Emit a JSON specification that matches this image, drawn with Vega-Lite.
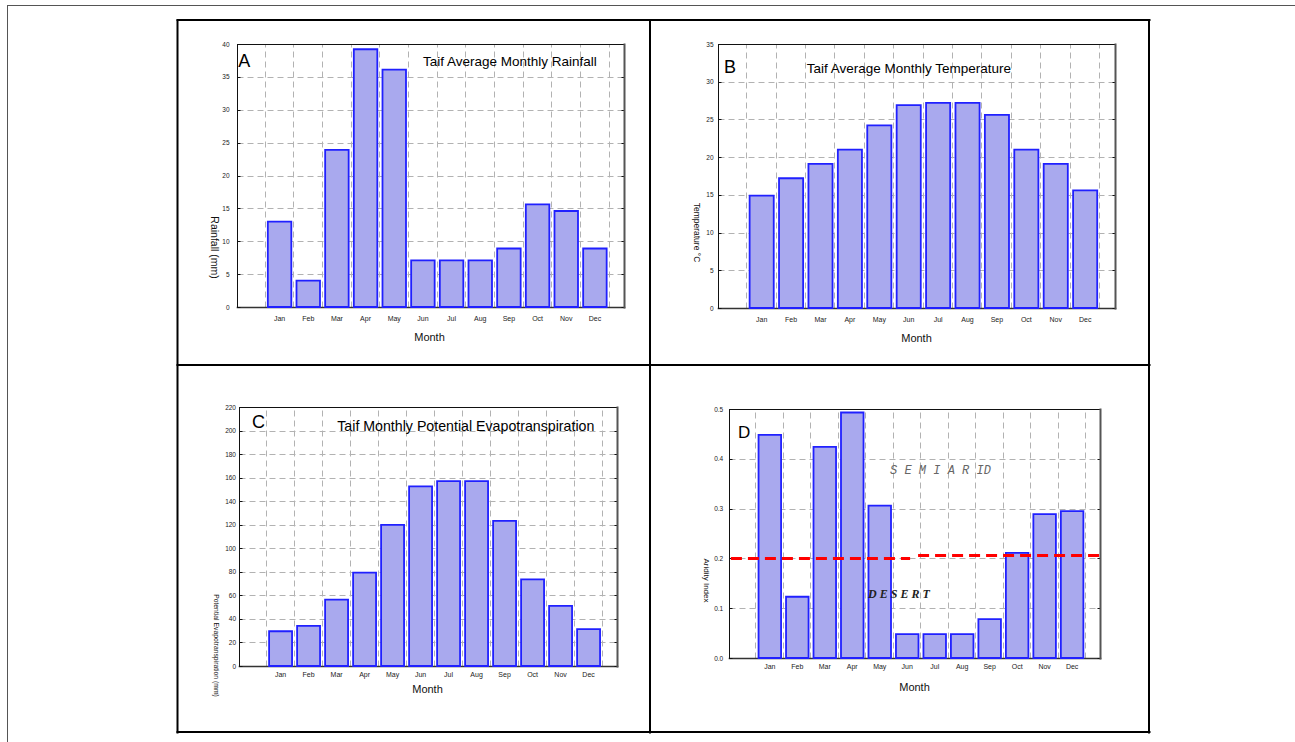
{
  "$schema": "https://vega.github.io/schema/vega-lite/v6.json",
  "width": 1295,
  "height": 742,
  "padding": 0,
  "autosize": {"type": "none"},
  "background": "white",
  "datasets": {
    "taif": [
      {"month": "Jan", "rainfall": 13.0, "temperature": 14.9, "pet": 29.5, "aridity": 0.448},
      {"month": "Feb", "rainfall": 4.0, "temperature": 17.2, "pet": 34.0, "aridity": 0.123},
      {"month": "Mar", "rainfall": 23.9, "temperature": 19.1, "pet": 56.3, "aridity": 0.424},
      {"month": "Apr", "rainfall": 39.2, "temperature": 21.0, "pet": 79.3, "aridity": 0.493},
      {"month": "May", "rainfall": 36.1, "temperature": 24.2, "pet": 119.8, "aridity": 0.306},
      {"month": "Jun", "rainfall": 7.1, "temperature": 26.9, "pet": 152.6, "aridity": 0.048},
      {"month": "Jul", "rainfall": 7.1, "temperature": 27.2, "pet": 157.1, "aridity": 0.048},
      {"month": "Aug", "rainfall": 7.1, "temperature": 27.2, "pet": 157.1, "aridity": 0.048},
      {"month": "Sep", "rainfall": 8.9, "temperature": 25.6, "pet": 123.2, "aridity": 0.078},
      {"month": "Oct", "rainfall": 15.6, "temperature": 21.0, "pet": 73.6, "aridity": 0.211},
      {"month": "Nov", "rainfall": 14.6, "temperature": 19.1, "pet": 51.0, "aridity": 0.289},
      {"month": "Dec", "rainfall": 8.9, "temperature": 15.6, "pet": 31.4, "aridity": 0.295}
    ],
    "one": [{}]
  },
  "config": {
    "view": {"stroke": null},
    "axis": {
      "labelFont": "Liberation Sans",
      "titleFont": "Liberation Sans",
      "labelColor": "#222",
      "titleColor": "#111",
      "titleFontWeight": "normal",
      "gridColor": "#b2b2b2",
      "gridDash": [6, 4],
      "gridWidth": 1,
      "labelOverlap": false,
      "labelBound": false,
      "labelFlush": false,
      "domainCap": "square"
    },
    "text": {"font": "Liberation Sans"}
  },
  "resolve": {"scale": {"x": "independent", "y": "independent"}, "axis": {"x": "independent", "y": "independent"}},
  "layer": [
    {
      "data": {"name": "one"},
      "mark": {"type": "point", "opacity": 0},
      "encoding": {
        "x": {"datum": 0, "type": "quantitative", "scale": {"domain": [0, 1], "range": [7, 1295], "nice": false, "zero": false},
              "axis": {"orient": "top", "offset": -5, "domain": true, "domainColor": "#555", "domainWidth": 1, "labels": false, "ticks": false, "grid": false, "title": null}},
        "y": {"datum": 0, "type": "quantitative", "scale": {"domain": [0, 1], "range": [742, 5], "nice": false, "zero": false},
              "axis": {"orient": "left", "offset": -7, "domain": true, "domainColor": "#555", "domainWidth": 1, "labels": false, "ticks": false, "grid": false, "title": null}}
      }
    },
    {
      "data": {"name": "one"},
      "mark": {"type": "point", "opacity": 0},
      "encoding": {
        "x": {"datum": 0, "type": "quantitative", "scale": {"domain": [0, 1], "range": [177, 1149], "nice": false, "zero": false},
              "axis": {"orient": "top", "offset": -19.5, "domain": true, "domainColor": "#000", "domainWidth": 2, "labels": false, "ticks": false, "grid": false, "title": null}},
        "y": {"datum": 0, "type": "quantitative", "scale": {"domain": [0, 1], "range": [732, 20], "nice": false, "zero": false},
              "axis": {"orient": "left", "offset": -177, "domain": true, "domainColor": "#000", "domainWidth": 2, "labels": false, "ticks": false, "grid": false, "title": null}}
      }
    },
    {
      "data": {"name": "one"},
      "mark": {"type": "point", "opacity": 0},
      "encoding": {
        "x": {"datum": 0, "type": "quantitative", "scale": {"domain": [0, 1], "range": [177, 1149], "nice": false, "zero": false},
              "axis": {"orient": "bottom", "offset": -10.5, "domain": true, "domainColor": "#000", "domainWidth": 2, "labels": false, "ticks": false, "grid": false, "title": null}},
        "y": {"datum": 0, "type": "quantitative", "scale": {"domain": [0, 1], "range": [732, 20], "nice": false, "zero": false},
              "axis": {"orient": "right", "offset": -146.5, "domain": true, "domainColor": "#000", "domainWidth": 2, "labels": false, "ticks": false, "grid": false, "title": null}}
      }
    },
    {
      "data": {"name": "one"},
      "mark": {"type": "point", "opacity": 0},
      "encoding": {
        "x": {"datum": 0, "type": "quantitative", "scale": {"domain": [0, 1], "range": [177, 1149], "nice": false, "zero": false},
              "axis": {"orient": "bottom", "offset": -377.5, "domain": true, "domainColor": "#000", "domainWidth": 2, "labels": false, "ticks": false, "grid": false, "title": null}},
        "y": {"datum": 0, "type": "quantitative", "scale": {"domain": [0, 1], "range": [732, 20], "nice": false, "zero": false},
              "axis": {"orient": "left", "offset": -649.5, "domain": true, "domainColor": "#000", "domainWidth": 2, "labels": false, "ticks": false, "grid": false, "title": null}}
      }
    },

    {
      "data": {"name": "one"},
      "mark": {"type": "point", "opacity": 0},
      "encoding": {
        "x": {"datum": 0, "type": "quantitative", "scale": {"domain": [0, 13.5], "range": [237, 624], "nice": false, "zero": false},
              "axis": {"orient": "top", "offset": -44, "values": [0.96, 1.96, 2.96, 3.96, 4.96, 5.96, 6.96, 7.96, 8.96, 9.96, 10.96, 11.96, 12.96],
                       "grid": true, "labels": false, "ticks": false, "domain": true, "domainColor": "#111", "domainWidth": 1, "title": null}},
        "y": {"datum": 0, "type": "quantitative", "scale": {"domain": [0, 40], "range": [307, 44], "nice": false, "zero": false},
              "axis": {"orient": "right", "offset": -671, "values": [0, 5, 10, 15, 20, 25, 30, 35, 40], "grid": false, "labels": false,
                       "ticks": true, "tickSize": -3, "tickColor": "#111", "domain": true, "domainColor": "#555", "domainWidth": 2, "title": null}}
      }
    },
    {
      "data": {"name": "taif"},
      "mark": {"type": "bar", "fill": "#a9a9ee", "stroke": "#2020ff", "strokeWidth": 1.8},
      "encoding": {
        "x": {"field": "month", "type": "ordinal", "sort": null,
              "scale": {"range": [237, 624], "paddingInner": 0.18, "paddingOuter": 0.84, "align": 0.64},
              "axis": {"orient": "bottom", "offset": -435, "domain": true, "domainColor": "#333", "domainWidth": 1.6, "ticks": false, "grid": false,
                       "labelAngle": 0, "labelFontSize": 7, "labelPadding": 7,
                       "title": "Month", "titleFontSize": 11, "titleX": 429, "titleY": 30, "titleAlign": "center", "titleBaseline": "middle"}},
        "y": {"field": "rainfall", "type": "quantitative",
              "scale": {"domain": [0, 40], "range": [307, 44], "nice": false, "zero": true},
              "axis": {"orient": "left", "offset": -237, "values": [0, 5, 10, 15, 20, 25, 30, 35, 40], "grid": true,
                       "domain": true, "domainColor": "#111", "domainWidth": 1, "ticks": true, "tickSize": -3, "tickColor": "#111",
                       "labelFontSize": 6.5, "labelPadding": 11,
                       "title": "Rainfall (mm)", "titleFontSize": 10.5, "titleAngle": 90, "titleX": -24, "titleY": 247, "titleAlign": "center", "titleBaseline": "middle"}}
      }
    },
    {
      "data": {"name": "one"},
      "mark": {"type": "text", "text": "A", "fontSize": 18, "align": "left", "baseline": "middle", "color": "#000"},
      "encoding": {
        "x": {"datum": 0.04, "type": "quantitative", "scale": {"domain": [0, 13.5], "range": [237, 624], "nice": false, "zero": false}, "axis": null},
        "y": {"datum": 37.3, "type": "quantitative", "scale": {"domain": [0, 40], "range": [307, 44], "nice": false, "zero": false}, "axis": null}
      }
    },
    {
      "data": {"name": "one"},
      "mark": {"type": "text", "text": "Taif  Average Monthly Rainfall", "fontSize": 13.5, "align": "center", "baseline": "middle", "color": "#000"},
      "encoding": {
        "x": {"datum": 9.52, "type": "quantitative", "scale": {"domain": [0, 13.5], "range": [237, 624], "nice": false, "zero": false}, "axis": null},
        "y": {"datum": 37.3, "type": "quantitative", "scale": {"domain": [0, 40], "range": [307, 44], "nice": false, "zero": false}, "axis": null}
      }
    },

    {
      "data": {"name": "one"},
      "mark": {"type": "point", "opacity": 0},
      "encoding": {
        "x": {"datum": 0, "type": "quantitative", "scale": {"domain": [0, 13.5], "range": [718, 1115], "nice": false, "zero": false},
              "axis": {"orient": "top", "offset": -44, "values": [0.96, 1.96, 2.96, 3.96, 4.96, 5.96, 6.96, 7.96, 8.96, 9.96, 10.96, 11.96, 12.96],
                       "grid": true, "labels": false, "ticks": false, "domain": true, "domainColor": "#111", "domainWidth": 1, "title": null}},
        "y": {"datum": 0, "type": "quantitative", "scale": {"domain": [0, 35], "range": [308, 44], "nice": false, "zero": false},
              "axis": {"orient": "right", "offset": -180, "values": [0, 5, 10, 15, 20, 25, 30, 35], "grid": false, "labels": false,
                       "ticks": true, "tickSize": -3, "tickColor": "#111", "domain": true, "domainColor": "#555", "domainWidth": 2, "title": null}}
      }
    },
    {
      "data": {"name": "taif"},
      "mark": {"type": "bar", "fill": "#a9a9ee", "stroke": "#2020ff", "strokeWidth": 1.8},
      "encoding": {
        "x": {"field": "month", "type": "ordinal", "sort": null,
              "scale": {"range": [718, 1115], "paddingInner": 0.18, "paddingOuter": 0.84, "align": 0.64},
              "axis": {"orient": "bottom", "offset": -434, "domain": true, "domainColor": "#333", "domainWidth": 1.6, "ticks": false, "grid": false,
                       "labelAngle": 0, "labelFontSize": 7, "labelPadding": 7.5,
                       "title": "Month", "titleFontSize": 11, "titleX": 916, "titleY": 30, "titleAlign": "center", "titleBaseline": "middle"}},
        "y": {"field": "temperature", "type": "quantitative",
              "scale": {"domain": [0, 35], "range": [308, 44], "nice": false, "zero": true},
              "axis": {"orient": "left", "offset": -718, "values": [0, 5, 10, 15, 20, 25, 30, 35], "grid": true,
                       "domain": true, "domainColor": "#111", "domainWidth": 1, "ticks": true, "tickSize": -3, "tickColor": "#111",
                       "labelFontSize": 6.5, "labelPadding": 8,
                       "title": "Temperature °C", "titleFontSize": 8.5, "titleAngle": 90, "titleX": -21.5, "titleY": 232, "titleAlign": "center", "titleBaseline": "middle"}}
      }
    },
    {
      "data": {"name": "one"},
      "mark": {"type": "text", "text": "B", "fontSize": 18, "align": "left", "baseline": "middle", "color": "#000"},
      "encoding": {
        "x": {"datum": 0.2, "type": "quantitative", "scale": {"domain": [0, 13.5], "range": [718, 1115], "nice": false, "zero": false}, "axis": null},
        "y": {"datum": 31.88, "type": "quantitative", "scale": {"domain": [0, 35], "range": [308, 44], "nice": false, "zero": false}, "axis": null}
      }
    },
    {
      "data": {"name": "one"},
      "mark": {"type": "text", "text": "Taif Average Monthly Temperature", "fontSize": 13.5, "align": "center", "baseline": "middle", "color": "#000"},
      "encoding": {
        "x": {"datum": 6.49, "type": "quantitative", "scale": {"domain": [0, 13.5], "range": [718, 1115], "nice": false, "zero": false}, "axis": null},
        "y": {"datum": 31.69, "type": "quantitative", "scale": {"domain": [0, 35], "range": [308, 44], "nice": false, "zero": false}, "axis": null}
      }
    },

    {
      "data": {"name": "one"},
      "mark": {"type": "point", "opacity": 0},
      "encoding": {
        "x": {"datum": 0, "type": "quantitative", "scale": {"domain": [0, 13.5], "range": [239, 617], "nice": false, "zero": false},
              "axis": {"orient": "top", "offset": -407, "values": [0.96, 1.96, 2.96, 3.96, 4.96, 5.96, 6.96, 7.96, 8.96, 9.96, 10.96, 11.96, 12.96],
                       "grid": true, "labels": false, "ticks": false, "domain": true, "domainColor": "#111", "domainWidth": 1, "title": null}},
        "y": {"datum": 0, "type": "quantitative", "scale": {"domain": [0, 220], "range": [666, 407], "nice": false, "zero": false},
              "axis": {"orient": "right", "offset": -678, "values": [0, 20, 40, 60, 80, 100, 120, 140, 160, 180, 200, 220], "grid": false, "labels": false,
                       "ticks": true, "tickSize": -3, "tickColor": "#111", "domain": true, "domainColor": "#555", "domainWidth": 2, "title": null}}
      }
    },
    {
      "data": {"name": "taif"},
      "mark": {"type": "bar", "fill": "#a9a9ee", "stroke": "#2020ff", "strokeWidth": 1.8},
      "encoding": {
        "x": {"field": "month", "type": "ordinal", "sort": null,
              "scale": {"range": [239, 617], "paddingInner": 0.18, "paddingOuter": 0.84, "align": 0.64},
              "axis": {"orient": "bottom", "offset": -76, "domain": true, "domainColor": "#333", "domainWidth": 1.6, "ticks": false, "grid": false,
                       "labelAngle": 0, "labelFontSize": 7, "labelPadding": 4.5,
                       "title": "Month", "titleFontSize": 11, "titleX": 427, "titleY": 23, "titleAlign": "center", "titleBaseline": "middle"}},
        "y": {"field": "pet", "type": "quantitative",
              "scale": {"domain": [0, 220], "range": [666, 407], "nice": false, "zero": true},
              "axis": {"orient": "left", "offset": -239, "values": [0, 20, 40, 60, 80, 100, 120, 140, 160, 180, 200, 220], "grid": true,
                       "domain": true, "domainColor": "#111", "domainWidth": 1, "ticks": true, "tickSize": -3, "tickColor": "#111",
                       "labelFontSize": 6.5, "labelPadding": 6.5,
                       "title": "Potential Evapotranspiration (mm)", "titleFontSize": 6.8, "titleAngle": 90, "titleX": -24, "titleY": 645, "titleAlign": "center", "titleBaseline": "middle"}}
      }
    },
    {
      "data": {"name": "one"},
      "mark": {"type": "text", "text": "C", "fontSize": 18, "align": "left", "baseline": "middle", "color": "#000"},
      "encoding": {
        "x": {"datum": 0.46, "type": "quantitative", "scale": {"domain": [0, 13.5], "range": [239, 617], "nice": false, "zero": false}, "axis": null},
        "y": {"datum": 206.8, "type": "quantitative", "scale": {"domain": [0, 220], "range": [666, 407], "nice": false, "zero": false}, "axis": null}
      }
    },
    {
      "data": {"name": "one"},
      "mark": {"type": "text", "text": "Taif Monthly Potential  Evapotranspiration", "fontSize": 14.2, "align": "center", "baseline": "middle", "color": "#000"},
      "encoding": {
        "x": {"datum": 8.1, "type": "quantitative", "scale": {"domain": [0, 13.5], "range": [239, 617], "nice": false, "zero": false}, "axis": null},
        "y": {"datum": 203, "type": "quantitative", "scale": {"domain": [0, 220], "range": [666, 407], "nice": false, "zero": false}, "axis": null}
      }
    },

    {
      "data": {"name": "one"},
      "mark": {"type": "point", "opacity": 0},
      "encoding": {
        "x": {"datum": 0, "type": "quantitative", "scale": {"domain": [0, 13.5], "range": [729, 1100], "nice": false, "zero": false},
              "axis": {"orient": "top", "offset": -409, "values": [0.96, 1.96, 2.96, 3.96, 4.96, 5.96, 6.96, 7.96, 8.96, 9.96, 10.96, 11.96, 12.96],
                       "grid": true, "labels": false, "ticks": false, "domain": true, "domainColor": "#111", "domainWidth": 1, "title": null}},
        "y": {"datum": 0, "type": "quantitative", "scale": {"domain": [0, 0.5], "range": [658, 409], "nice": false, "zero": false},
              "axis": {"orient": "right", "offset": -195, "values": [0, 0.1, 0.2, 0.3, 0.4, 0.5], "grid": false, "labels": false,
                       "ticks": true, "tickSize": -3, "tickColor": "#111", "domain": true, "domainColor": "#555", "domainWidth": 2, "title": null}}
      }
    },
    {
      "data": {"name": "taif"},
      "mark": {"type": "bar", "fill": "#a9a9ee", "stroke": "#2020ff", "strokeWidth": 1.8},
      "encoding": {
        "x": {"field": "month", "type": "ordinal", "sort": null,
              "scale": {"range": [729, 1100], "paddingInner": 0.18, "paddingOuter": 0.84, "align": 0.64},
              "axis": {"orient": "bottom", "offset": -84, "domain": true, "domainColor": "#333", "domainWidth": 1.6, "ticks": false, "grid": false,
                       "labelAngle": 0, "labelFontSize": 7, "labelPadding": 4.5,
                       "title": "Month", "titleFontSize": 11, "titleX": 914, "titleY": 29, "titleAlign": "center", "titleBaseline": "middle"}},
        "y": {"field": "aridity", "type": "quantitative",
              "scale": {"domain": [0, 0.5], "range": [658, 409], "nice": false, "zero": true},
              "axis": {"orient": "left", "offset": -729, "values": [0, 0.1, 0.2, 0.3, 0.4, 0.5], "format": ".1f", "grid": true,
                       "domain": true, "domainColor": "#111", "domainWidth": 1, "ticks": true, "tickSize": -3, "tickColor": "#111",
                       "labelFontSize": 6.5, "labelPadding": 9.3,
                       "title": "Aridity Index", "titleFontSize": 8, "titleAngle": 90, "titleX": -24, "titleY": 580, "titleAlign": "center", "titleBaseline": "middle"}}
      }
    },
    {
      "data": {"name": "one"},
      "mark": {"type": "rule", "stroke": "#ff0000", "strokeWidth": 3, "strokeDash": [11, 6]},
      "encoding": {
        "x": {"datum": 0.07, "type": "quantitative", "scale": {"domain": [0, 13.5], "range": [729, 1100], "nice": false, "zero": false}, "axis": null},
        "x2": {"datum": 6.59},
        "y": {"datum": 0.2, "type": "quantitative", "scale": {"domain": [0, 0.5], "range": [658, 409], "nice": false, "zero": false}, "axis": null}
      }
    },
    {
      "data": {"name": "one"},
      "mark": {"type": "rule", "stroke": "#ff0000", "strokeWidth": 3, "strokeDash": [11, 6]},
      "encoding": {
        "x": {"datum": 6.88, "type": "quantitative", "scale": {"domain": [0, 13.5], "range": [729, 1100], "nice": false, "zero": false}, "axis": null},
        "x2": {"datum": 13.5},
        "y": {"datum": 0.206, "type": "quantitative", "scale": {"domain": [0, 0.5], "range": [658, 409], "nice": false, "zero": false}, "axis": null}
      }
    },
    {
      "data": {"name": "one"},
      "mark": {"type": "text", "text": "D", "fontSize": 17, "align": "left", "baseline": "middle", "color": "#000"},
      "encoding": {
        "x": {"datum": 0.33, "type": "quantitative", "scale": {"domain": [0, 13.5], "range": [729, 1100], "nice": false, "zero": false}, "axis": null},
        "y": {"datum": 0.452, "type": "quantitative", "scale": {"domain": [0, 0.5], "range": [658, 409], "nice": false, "zero": false}, "axis": null}
      }
    },
    {
      "data": {"name": "one"},
      "mark": {"type": "text", "text": "S E M I   A R ID", "font": "Liberation Mono", "fontStyle": "italic", "fontSize": 12, "align": "left", "baseline": "middle", "color": "#666"},
      "encoding": {
        "x": {"datum": 5.86, "type": "quantitative", "scale": {"domain": [0, 13.5], "range": [729, 1100], "nice": false, "zero": false}, "axis": null},
        "y": {"datum": 0.3775, "type": "quantitative", "scale": {"domain": [0, 0.5], "range": [658, 409], "nice": false, "zero": false}, "axis": null}
      }
    },
    {
      "data": {"name": "one"},
      "mark": {"type": "text", "text": "D E S E R T", "font": "Liberation Serif", "fontStyle": "italic", "fontWeight": "bold", "fontSize": 12, "align": "left", "baseline": "middle", "color": "#222"},
      "encoding": {
        "x": {"datum": 5.06, "type": "quantitative", "scale": {"domain": [0, 13.5], "range": [729, 1100], "nice": false, "zero": false}, "axis": null},
        "y": {"datum": 0.129, "type": "quantitative", "scale": {"domain": [0, 0.5], "range": [658, 409], "nice": false, "zero": false}, "axis": null}
      }
    }
  ]
}
